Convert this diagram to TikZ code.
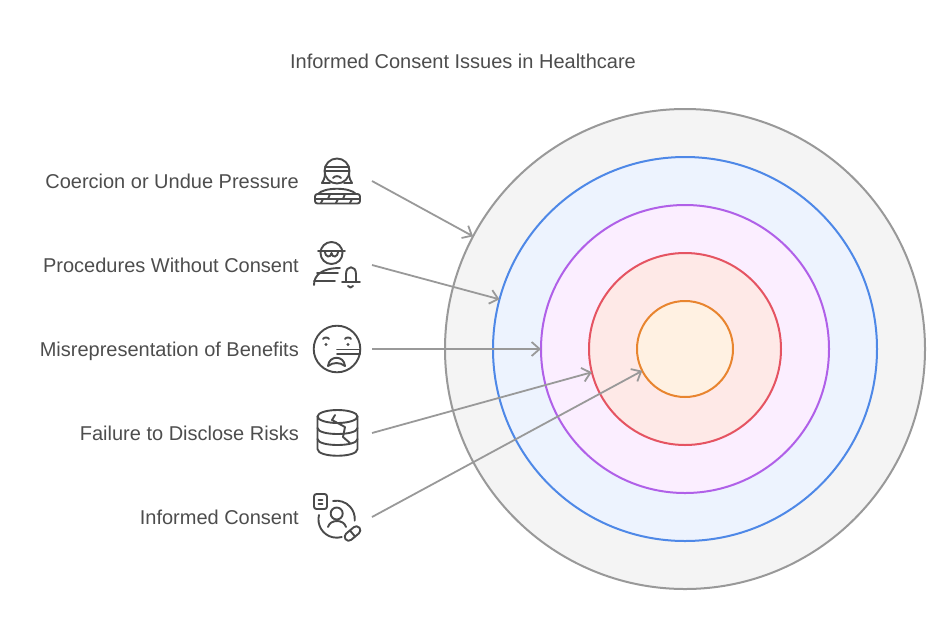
\documentclass[tikz,border=0pt]{standalone}
\usepackage{fontspec}
\setmainfont{Liberation Sans}
\usepackage{xcolor}
\usetikzlibrary{arrows.meta}
\definecolor{inktext}{HTML}{4D4D4D}
\definecolor{inkicon}{HTML}{4A4A4A}
\definecolor{arrowgray}{HTML}{999999}
\definecolor{ringblue}{HTML}{4E88E7}
\definecolor{ringpurple}{HTML}{B060E8}
\definecolor{ringred}{HTML}{E55462}
\definecolor{ringorange}{HTML}{E8852F}
\definecolor{fillgray}{HTML}{F4F4F4}
\definecolor{fillblue}{HTML}{EDF3FE}
\definecolor{fillpurple}{HTML}{FBEEFF}
\definecolor{fillred}{HTML}{FEE9E7}
\definecolor{fillorange}{HTML}{FFF1E2}
\tikzset{
  ring/.style={circle,line width=2pt,inner sep=0pt,outer sep=0pt},
  issue/.style={anchor=base east,inner sep=0pt,text=inktext,font=\fontsize{20}{24}\selectfont},
  pointer/.style={draw=arrowgray,line width=1.8pt,-{Straight Barb[length=8pt,width=14pt,line width=1.8pt]}},
  icon/.style={draw=inkicon,line width=1.9pt,line cap=round,line join=round}
}

\begin{document}
\begin{tikzpicture}[x=1pt,y=-1pt]

\useasboundingbox (0,0) rectangle (950,638);

% Title
\node[text=inktext,font=\fontsize{20}{24}\selectfont] (title) at (463,61) {Informed Consent Issues in Healthcare};

% Rings
\node[ring,draw=arrowgray,fill=fillgray,minimum size=480pt] (gray) at (685,349) {};
\node[ring,draw=ringblue,fill=fillblue,minimum size=384pt] (blue) at (685,349) {};
\node[ring,draw=ringpurple,fill=fillpurple,minimum size=288pt] (purple) at (685,349) {};
\node[ring,draw=ringred,fill=fillred,minimum size=192pt] (red) at (685,349) {};
\node[ring,draw=ringorange,fill=fillorange,minimum size=96pt] (orange) at (685,349) {};

% Labels
\node[issue] (coercion) at (299,188) {Coercion or Undue Pressure};
\node[issue] (procedures) at (299,272) {Procedures Without Consent};
\node[issue] (misrep) at (299,356) {Misrepresentation of Benefits};
\node[issue] (failure) at (299,440) {Failure to Disclose Risks};
\node[issue] (consent) at (299,524) {Informed Consent};

% Arrows
\coordinate (startA) at (372,181);
\coordinate (startB) at (372,265);
\coordinate (startC) at (372,349);
\coordinate (startD) at (372,433);
\coordinate (startE) at (372,517);
\draw[pointer] (startA) -- (gray.152);
\draw[pointer] (startB) -- (blue.165);
\draw[pointer] (startC) -- (purple.180);
\draw[pointer] (startD) -- (red.194);
\draw[pointer] (startE) -- (orange.207);

% Icon: blindfolded figure behind a wall
\draw[icon] (337,171) circle (12.5);
\draw[icon] (325,167) -- (349,167) (325,171) -- (349,171);
\draw[icon] (325,173) .. controls (325,179) and (323,181) .. (322,183) -- (330,183);
\draw[icon] (349,173) .. controls (349,179) and (351,181) .. (352,183) -- (344,183);
\draw[icon] (333,178) .. controls (335,175.5) and (339,175.5) .. (341,178);
\draw[icon] (318,194) .. controls (324,187) and (350,187) .. (356,194);
\draw[icon,rounded corners=2.5pt] (315,194) rectangle (360,203.5);
\draw[icon] (316,199) -- (359,199);
\draw[icon] (330,194) -- (328,199) (345,194) -- (343,199) (323,199) -- (321,203) (338,199) -- (336,203) (352,199) -- (350,203);

% Icon: figure in glasses with a bell
\draw[icon] (331.5,253) circle (11);
\draw[icon] (318,251) -- (345,251);
\draw[icon] (325,251) .. controls (325,258) and (331,258) .. (331.5,253) .. controls (332,258) and (338,258) .. (338,251);
\draw[icon] (314,285) .. controls (314,275) and (322,268) .. (340,268);
\draw[icon] (317,273) -- (338,273) (314,281) -- (335,281);
\draw[icon] (346,282) -- (346,274) .. controls (346,265) and (356,265) .. (356,274) -- (356,282);
\draw[icon] (342,282) -- (360,282);
\draw[icon] (348,286) .. controls (349,288) and (352,288) .. (353,286);

% Icon: frowning face with a long nose
\draw[icon] (337,349) circle (23.3);
\fill[inkicon] (326,344.5) circle (1.7) (348,344.5) circle (1.7);
\draw[icon] (323,339) .. controls (324,337) and (328,337) .. (329,339);
\draw[icon] (345,339) .. controls (346,337) and (350,337) .. (351,339);
\draw[icon] (337,349.5) -- (360,349.5) -- (360,354) -- (337,354);
\draw[icon] (328,366) .. controls (329,355) and (344,355) .. (345,366) .. controls (340,362) and (333,362) .. (328,366);

% Icon: cracked database
\draw[icon] (337.5,416.5) ellipse (20 and 6.5);
\draw[icon] (317.5,416.5) -- (317.5,449) .. controls (317.5,458) and (357.5,458) .. (357.5,449) -- (357.5,416.5);
\draw[icon] (317.5,428) .. controls (318,436) and (357,436) .. (357.5,428);
\draw[icon] (317.5,439) .. controls (318,447) and (357,447) .. (357.5,439);
\draw[icon] (335,415) -- (332,420) -- (345,427) -- (343,437) -- (350,443);

% Icon: patient with document and pill
\draw[icon,rounded corners=2.5pt] (314,494) rectangle (327,509);
\draw[icon] (318.5,500) -- (322.5,500) (318.5,504) -- (322.5,504);
\draw[icon] (333,501) arc (-101:5:18.3);
\draw[icon] (319,515) arc (194:74:18.3);
\draw[icon] (336.7,513.5) circle (6);
\draw[icon] (328,527) .. controls (330,519) and (344,519) .. (346,527);
\begin{scope}[shift={(352.5,533.5)},rotate=40]
\draw[icon,rounded corners=3.9pt] (-9,-4) rectangle (9,4);
\draw[icon] (0,-4) -- (0,4);
\end{scope}

\end{tikzpicture}
\end{document}
